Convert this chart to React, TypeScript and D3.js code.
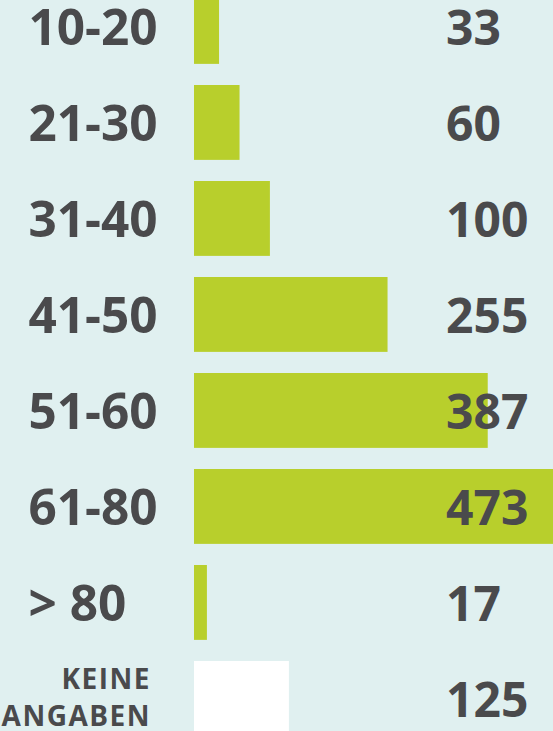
import React, { useRef, useEffect } from 'react';
import * as d3 from 'd3';

const categories = ['10-20', '21-30', '31-40', '41-50', '51-60', '61-80', '> 80', 'KEINE ANGABEN'];
const values = [33, 60, 100, 255, 387, 473, 17, 125];
const barColors = ['#b8cf2c', '#b8cf2c', '#b8cf2c', '#b8cf2c', '#b8cf2c', '#b8cf2c', '#b8cf2c', '#ffffff'];

const W = 553;
const H = 731;

export default function App() {
  const ref = useRef<SVGSVGElement>(null);

  useEffect(() => {
    if (!ref.current) return;
    const svg = d3.select(ref.current);
    svg.selectAll('*').remove();

    const font = "'Open Sans', 'DejaVu Sans', sans-serif";
    const textColor = '#4a4a4c';

    svg.append('rect').attr('width', W).attr('height', H).attr('fill', '#e0f0f0');

    const step = 96;
    const pad = 0.22;
    const y = d3.scaleBand<string>()
      .domain(categories)
      .range([-11, -11 + step * categories.length - pad * step])
      .paddingInner(pad)
      .paddingOuter(0);

    const x = d3.scaleLinear().domain([0, 473]).range([0, 359]);
    const x0 = 194;

    // bars
    svg.selectAll('.bar')
      .data(categories)
      .enter()
      .append('rect')
      .attr('x', x0)
      .attr('y', d => y(d) || 0)
      .attr('width', (d, i) => x(values[i]))
      .attr('height', y.bandwidth())
      .attr('fill', (d, i) => barColors[i]);

    // labels left, values right
    categories.forEach((c, i) => {
      const cy = (y(c) || 0) + y.bandwidth() / 2;
      if (c === 'KEINE ANGABEN') {
        const t = svg.append('text')
          .attr('text-anchor', 'end')
          .attr('font-family', font)
          .attr('font-weight', 700)
          .attr('font-size', 28)
          .attr('letter-spacing', 1.5)
          .attr('fill', textColor);
        t.append('tspan').attr('x', 151).attr('y', cy - 9).text('KEINE');
        t.append('tspan').attr('x', 151).attr('y', cy + 28).text('ANGABEN');
      } else {
        svg.append('text')
          .attr('x', 28.5)
          .attr('y', cy + 19)
          .attr('text-anchor', 'start')
          .attr('font-family', font)
          .attr('font-weight', 700)
          .attr('font-size', 49.5)
          .attr('fill', textColor)
          .text(c);
      }

      svg.append('text')
        .attr('x', 446)
        .attr('y', cy + 19)
        .attr('text-anchor', 'start')
        .attr('font-family', font)
        .attr('font-weight', 700)
        .attr('font-size', 48)
        .attr('fill', textColor)
        .text(values[i]);
    });
  }, []);

  return (
    <svg
      ref={ref}
      width={W}
      height={H}
      style={{ position: 'fixed', left: 0, top: 0, display: 'block' }}
    />
  );
}
